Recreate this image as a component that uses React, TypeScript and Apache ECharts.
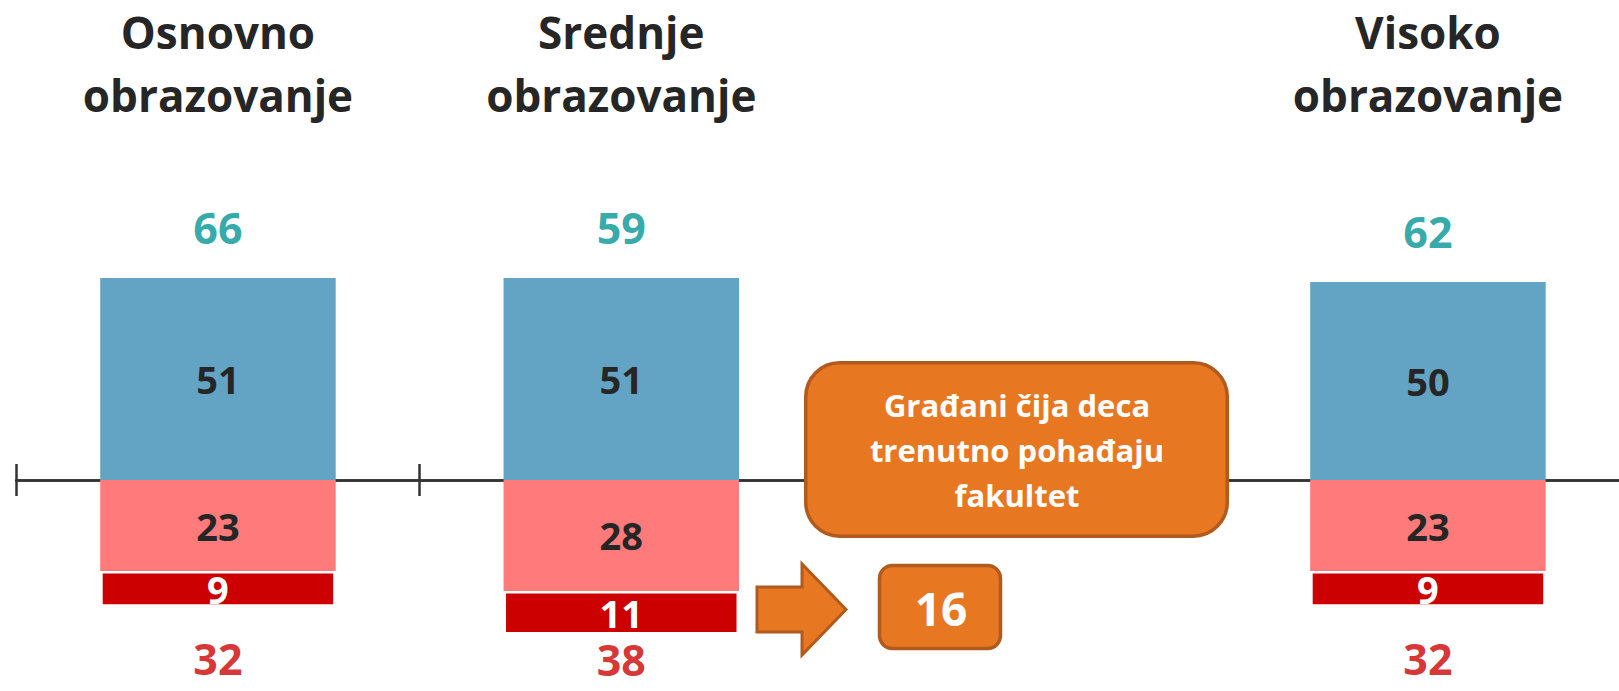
import React, { useEffect, useRef } from "react";
import * as echarts from "echarts";

const categories = ["Osnovno\nobrazovanje", "Srednje\nobrazovanje", "", "Visoko\nobrazovanje"];
const positiveValues: (number | null)[] = [51, 51, null, 50];
const negativeValues: (number | null)[] = [23, 28, null, 23];
const strongNegativeValues: (number | null)[] = [9, 11, null, 9];
const positiveTotals: (number | null)[] = [66, 59, null, 62];
const negativeTotals: (number | null)[] = [32, 38, null, 32];
const calloutText = "Građani čija deca\ntrenutno pohađaju\nfakultet";
const calloutValue = 16;

const FONT = "'Open Sans', 'Noto Sans', sans-serif";
const BLUE = "#63a4c4";
const PINK = "#ff7a7a";
const RED = "#cc0000";
const TEAL = "#009393";
const DARK = "#262626";
const ORANGE = "#e87722";
const ORANGE_DARK = "#b05a1e";

export default function App() {
  const ref = useRef<HTMLDivElement>(null);

  useEffect(() => {
    if (!ref.current) return;
    const chart = echarts.init(ref.current, undefined, { renderer: "svg" });

    const idx = categories.map((_, i) => i);
    const topTotals = idx
      .filter((i) => positiveValues[i] != null)
      .map((i) => ({ value: [i, positiveValues[i] as number], total: positiveTotals[i] }));
    const bottomTotals = idx
      .filter((i) => negativeValues[i] != null)
      .map((i) => ({
        value: [i, -((negativeValues[i] as number) + (strongNegativeValues[i] as number))],
        total: negativeTotals[i],
        label: i === 1 ? { distance: 4 } : undefined,
      }));

    const insideLabel = (color: string) => ({
      show: true,
      position: "inside",
      formatter: (p: any) => String(Math.abs(p.value)),
      color,
      fontFamily: FONT,
      fontWeight: "bold",
      fontSize: 38,
      lineHeight: 36,
    });

    const axisStyle = { color: "#333", width: 2.5 };

    chart.setOption({
      animation: false,
      grid: {
        left: 16.3,
        width: 1613.3,
        top: 135.5,
        bottom: 13,
        containLabel: false,
        outerBoundsMode: "none",
      },
      xAxis: [
        {
          type: "category",
          data: categories,
          position: "bottom",
          axisLine: { show: true, onZero: true, lineStyle: axisStyle },
          axisTick: { show: true, inside: true, length: 16, lineStyle: axisStyle },
          axisLabel: { show: false },
          splitLine: { show: false },
        },
        {
          type: "category",
          data: categories,
          position: "bottom",
          axisLine: { show: true, onZero: true, onZeroAxisIndex: 0, lineStyle: axisStyle },
          axisTick: { show: true, inside: false, length: 16, lineStyle: axisStyle },
          axisLabel: { show: false },
          splitLine: { show: false },
        },
        {
          type: "category",
          data: categories,
          position: "top",
          axisLine: { show: false, onZero: false },
          axisTick: { show: false },
          axisLabel: {
            show: true,
            interval: 0,
            margin: 9,
            color: DARK,
            fontFamily: FONT,
            fontWeight: "bold",
            fontSize: 44,
            lineHeight: 63,
          },
          splitLine: { show: false },
        },
      ],
      yAxis: { type: "value", min: -50, max: 87, show: false, splitLine: { show: false } },
      series: [
        {
          type: "bar",
          name: "blue",
          stack: "s",
          barWidth: 235.5,
          data: positiveValues,
          itemStyle: { color: BLUE },
          label: insideLabel(DARK),
        },
        {
          type: "bar",
          name: "pink",
          stack: "s",
          barWidth: 235.5,
          data: negativeValues.map((v) => (v == null ? null : -v)),
          itemStyle: { color: PINK },
          label: insideLabel(DARK),
        },
        {
          type: "bar",
          name: "red",
          stack: "s",
          barWidth: 235.5,
          data: strongNegativeValues.map((v) => (v == null ? null : -v)),
          itemStyle: { color: RED, borderColor: "#ffffff", borderWidth: 2.5 },
          label: insideLabel("#ffffff"),
        },
        {
          type: "scatter",
          name: "topTotals",
          symbolSize: 0,
          data: topTotals,
          label: {
            show: true,
            position: "top",
            distance: 29.5,
            formatter: (p: any) => String(p.data.total),
            color: TEAL,
            fontFamily: FONT,
            fontWeight: "bold",
            fontSize: 43,
            lineHeight: 43,
          },
          z: 5,
        },
        {
          type: "scatter",
          name: "bottomTotals",
          symbolSize: 0,
          data: bottomTotals,
          label: {
            show: true,
            position: "bottom",
            distance: 30,
            formatter: (p: any) => String(p.data.total),
            color: RED,
            fontFamily: FONT,
            fontWeight: "bold",
            fontSize: 43,
            lineHeight: 43,
          },
          z: 5,
        },
      ],
      graphic: [
        {
          type: "rect",
          z: 100,
          shape: { x: 805.75, y: 362.75, width: 421.5, height: 173.5, r: 34 },
          style: { fill: ORANGE, stroke: ORANGE_DARK, lineWidth: 3.5 },
        },
        {
          type: "text",
          z: 101,
          x: 1017,
          y: 450,
          style: {
            text: calloutText,
            fill: "#ffffff",
            font: `bold 31px ${FONT}`,
            lineHeight: 45,
            align: "center",
            verticalAlign: "middle",
          },
        },
        {
          type: "polygon",
          z: 100,
          shape: {
            points: [
              [757, 587],
              [802, 587],
              [802, 564],
              [846, 609.5],
              [802, 655],
              [802, 632],
              [757, 632],
            ],
          },
          style: { fill: ORANGE, stroke: ORANGE_DARK, lineWidth: 3 },
        },
        {
          type: "rect",
          z: 100,
          shape: { x: 879.5, y: 565.5, width: 121, height: 83, r: 13 },
          style: { fill: ORANGE, stroke: ORANGE_DARK, lineWidth: 3.5 },
        },
        {
          type: "text",
          z: 101,
          x: 941,
          y: 608,
          style: {
            text: String(calloutValue),
            fill: "#ffffff",
            font: `bold 46px ${FONT}`,
            align: "center",
            verticalAlign: "middle",
          },
        },
      ],
    });

    return () => chart.dispose();
  }, []);

  return (
    <div
      ref={ref}
      style={{ position: "fixed", left: 0, top: 0, width: 1619, height: 691, background: "#ffffff" }}
    />
  );
}
